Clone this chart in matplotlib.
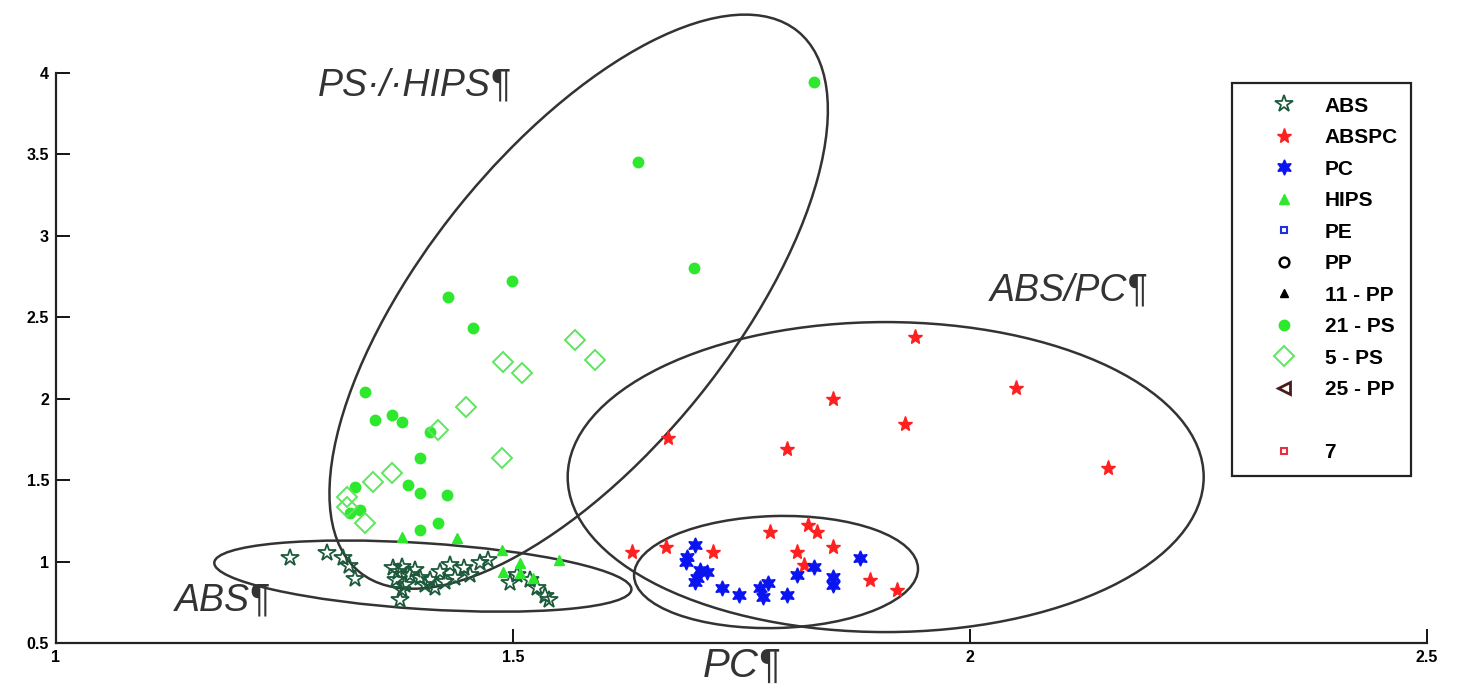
import numpy as np
import matplotlib.pyplot as plt
from matplotlib.patches import Ellipse
from matplotlib.lines import Line2D
from matplotlib.transforms import ScaledTranslation

plt.rcParams['font.family'] = ['Liberation Sans', 'DejaVu Sans']

# data
abs_x = [1.256, 1.297, 1.314, 1.321, 1.327, 1.369, 1.374, 1.379, 1.372, 1.382, 1.376, 1.379,
         1.387, 1.393, 1.398, 1.404, 1.409, 1.415, 1.420, 1.426, 1.431, 1.437, 1.447, 1.453,
         1.464, 1.473, 1.497, 1.505, 1.519, 1.526, 1.535, 1.540]
abs_y = [1.022, 1.053, 1.022, 0.973, 0.893, 0.960, 0.936, 0.967, 0.887, 0.856, 0.764, 0.825,
         0.917, 0.948, 0.899, 0.856, 0.887, 0.838, 0.936, 0.874, 0.979, 0.899, 0.960, 0.917,
         0.991, 1.010, 0.868, 0.917, 0.887, 0.838, 0.789, 0.764]

abspc_x = [1.670, 1.800, 1.850, 1.929, 1.940, 2.051, 2.151, 1.630, 1.668, 1.719, 1.781,
           1.823, 1.833, 1.850, 1.811, 1.819, 1.891, 1.920]
abspc_y = [1.758, 1.691, 1.998, 1.844, 2.379, 2.065, 1.574, 1.059, 1.089, 1.059, 1.181,
           1.224, 1.181, 1.089, 1.059, 0.979, 0.887, 0.825]

pc_x = [1.699, 1.691, 1.690, 1.705, 1.701, 1.712, 1.699, 1.729, 1.748, 1.770, 1.779,
        1.774, 1.800, 1.811, 1.830, 1.850, 1.850, 1.880]
pc_y = [1.102, 1.028, 0.997, 0.948, 0.899, 0.936, 0.874, 0.838, 0.795, 0.838, 0.868,
        0.782, 0.795, 0.917, 0.967, 0.905, 0.856, 1.022]

hips_x = [1.488, 1.508, 1.551, 1.489, 1.508, 1.522, 1.439, 1.379]
hips_y = [1.071, 0.991, 1.010, 0.936, 0.930, 0.899, 1.145, 1.151]

ps21_x = [1.830, 1.637, 1.698, 1.499, 1.429, 1.456, 1.338, 1.349, 1.368, 1.379, 1.409,
          1.398, 1.327, 1.333, 1.385, 1.398, 1.428, 1.418, 1.398, 1.322]
ps21_y = [3.944, 3.453, 2.802, 2.722, 2.624, 2.434, 2.041, 1.869, 1.900, 1.857, 1.795,
          1.636, 1.458, 1.316, 1.470, 1.421, 1.409, 1.237, 1.194, 1.298]

ps5_x = [1.568, 1.590, 1.489, 1.510, 1.449, 1.418, 1.488, 1.368, 1.347, 1.318, 1.318, 1.338]
ps5_y = [2.360, 2.237, 2.225, 2.158, 1.949, 1.808, 1.636, 1.544, 1.488, 1.396, 1.335, 1.237]

# ellipses: center (data), width/height (inches), angle
ellipses = [((1.572, 2.596), 6.96, 3.06, 51),
            ((1.908, 1.519), 6.36, 3.10, 0),
            ((1.788, 0.936), 2.84, 1.12, 1.5),
            ((1.4015, 0.911), 4.18, 0.66, -3.7)]

fig = plt.figure(figsize=(14.77, 6.87), dpi=100)
ax = fig.add_axes([0.0379, 0.064, 0.928, 0.8297])

ax.plot(abs_x, abs_y, '*', ms=13, mfc='none', mec='#1d5a3c', mew=1.3, label='ABS')
ax.plot(abspc_x, abspc_y, '*', ms=11, color='#ff2020', label='ABSPC')
ax.plot(pc_x, pc_y, marker=(6, 1, 0), ls='none', ms=11, color='#0a14f0', label='PC')
ax.plot(hips_x, hips_y, '^', ms=7, color='#2ee82e', label='HIPS')
ax.plot([], [], 's', ms=5, mfc='none', mec='#2030e0', mew=1.5, label='PE')
ax.plot([], [], 'o', ms=7, mfc='none', mec='black', mew=1.8, label='PP')
ax.plot([], [], '^', ms=6, color='black', label='11 - PP')
ax.plot(ps21_x, ps21_y, 'o', ms=7.5, color='#2ee82e', label='21 - PS')
ax.plot(ps5_x, ps5_y, 'D', ms=10, mfc='none', mec='#5ee65e', mew=1.4, label='5 - PS')
ax.plot([], [], '<', ms=9, mfc='none', mec='#4a1c1c', mew=2, label='25 - PP')
ax.plot([], [], 's', ms=5, mfc='none', mec='#e83040', mew=1.5, label='7')

for (cx, cy), w, h, ang in ellipses:
    tr = fig.dpi_scale_trans + ScaledTranslation(cx, cy, ax.transData)
    e = Ellipse((0, 0), w, h, angle=ang, transform=tr, fill=False,
                edgecolor='#333333', linewidth=1.8, clip_on=False)
    ax.add_patch(e)

ax.set_xlim(1, 2.5)
ax.set_ylim(0.5, 4)
ax.set_xticks([1, 1.5, 2, 2.5])
ax.set_xticklabels(['1', '1.5', '2', '2.5'])
ax.set_yticks([0.5, 1, 1.5, 2, 2.5, 3, 3.5, 4])
ax.set_yticklabels(['0.5', '1', '1.5', '2', '2.5', '3', '3.5', '4'])
ax.tick_params(direction='in', length=10, width=1.3, labelsize=11.5, pad=5)
for lab in ax.get_xticklabels() + ax.get_yticklabels():
    lab.set_fontweight('bold')
for s in ['top', 'right']:
    ax.spines[s].set_visible(False)
for s in ['left', 'bottom']:
    ax.spines[s].set_linewidth(1.6)
    ax.spines[s].set_color('#222222')

tc = '#333333'
ax.text(1.287, 3.925, 'PS·/·HIPS¶', fontsize=27, style='italic', color=tc, va='center')
ax.text(2.022, 2.667, 'ABS/PC¶', fontsize=27, style='italic', color=tc, va='center')
ax.text(1.130, 0.764, 'ABS¶', fontsize=27, style='italic', color=tc, va='center')
ax.text(0.5, -0.04, 'PC¶', fontsize=29, style='italic', color=tc, va='center',
        ha='center', transform=ax.transAxes)

handles, labels = ax.get_legend_handles_labels()
blank = Line2D([], [], ls='none', marker='none')
handles = handles[:10] + [blank] + handles[10:]
labels = labels[:10] + [' '] + labels[10:]
leg = ax.legend(handles, labels, loc='upper left', bbox_to_anchor=(0.834, 0.879),
                bbox_transform=fig.transFigure, borderaxespad=0, numpoints=1,
                handlelength=3.7, handletextpad=0.1, borderpad=0.65, labelspacing=0.6,
                fancybox=False, framealpha=1, edgecolor='#222222',
                prop={'weight': 'bold', 'size': 15})
leg.get_frame().set_linewidth(1.6)

fig.savefig('out.png', dpi=100)
